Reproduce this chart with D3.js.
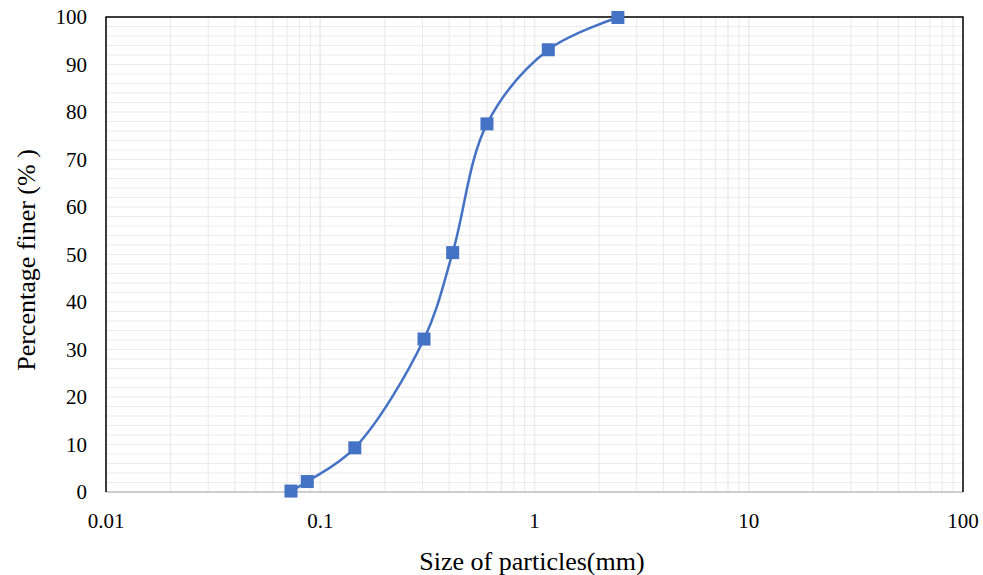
<!DOCTYPE html>
<html>
<head>
<meta charset="utf-8">
<script src="https://cdn.jsdelivr.net/npm/d3@7"></script>
<style>
  body { margin: 0; background: #fff; }
  text { font-family: "Liberation Serif", "Times New Roman", serif; fill: #000; }
</style>
</head>
<body>
<svg id="chart" width="983" height="575"></svg>
<script>
// grain size (mm) vs percentage finer
const sizes = [0.073, 0.087, 0.145, 0.305, 0.415, 0.6, 1.16, 2.45];
const finer = [0.2, 2.2, 9.3, 32.2, 50.4, 77.5, 93.1, 99.9];
const xTicks = [0.01, 0.1, 1, 10, 100];
const yTicks = [0, 10, 20, 30, 40, 50, 60, 70, 80, 90, 100];

const svg = d3.select("#chart");
const m = { left: 106, right: 963, top: 17, bottom: 492 };

const x = d3.scaleLog().domain([0.01, 100]).range([m.left, m.right]);
const y = d3.scaleLinear().domain([0, 100]).range([m.bottom, m.top]);

const grid = svg.append("g");
// vertical gridlines at every log minor tick
const minor = [];
[0.01, 0.1, 1, 10].forEach(d => { for (let k = 1; k <= 10; k++) minor.push(d * k); });
grid.selectAll("line.v").data(minor).enter().append("line")
    .attr("x1", d => x(d)).attr("x2", d => x(d))
    .attr("y1", m.top).attr("y2", m.bottom)
    .style("stroke", "#ebebeb").style("stroke-width", 1.2);
// horizontal gridlines every 2
grid.selectAll("line.h").data(d3.range(0, 101, 2)).enter().append("line")
    .attr("x1", m.left).attr("x2", m.right)
    .attr("y1", d => y(d)).attr("y2", d => y(d))
    .style("stroke", "#ebebeb").style("stroke-width", 1.2);

// frame
svg.append("line").attr("x1", m.left).attr("x2", m.right).attr("y1", m.bottom).attr("y2", m.bottom)
    .style("stroke", "#bfbfbf").style("stroke-width", 1.5);
svg.append("path")
    .attr("d", `M${m.left},${m.bottom}V${m.top}H${m.right}V${m.bottom}`)
    .style("fill", "none").style("stroke", "#000").style("stroke-width", 1.5);

// tick labels
svg.append("g").selectAll("text").data(yTicks).enter().append("text")
    .attr("x", 87).attr("y", d => y(d)).attr("dy", "0.35em")
    .attr("text-anchor", "end").style("font-size", "21px")
    .text(d => d);
svg.append("g").selectAll("text").data(xTicks).enter().append("text")
    .attr("x", d => x(d)).attr("y", 528)
    .attr("text-anchor", "middle").style("font-size", "21px")
    .text(d => d);

// axis titles
svg.append("text").attr("x", 532).attr("y", 570)
    .attr("text-anchor", "middle").style("font-size", "26px")
    .text("Size of particles(mm)");
svg.append("text").attr("transform", "translate(35,260) rotate(-90)")
    .attr("text-anchor", "middle").style("font-size", "26px")
    .text("Percentage finer (% )");

// data
const data = sizes.map((s, i) => ({ s: s, p: finer[i] }));
const line = d3.line().x(d => x(d.s)).y(d => y(d.p)).curve(d3.curveCatmullRom.alpha(0.5));
svg.append("path").datum(data).attr("d", line)
    .style("fill", "none").style("stroke", "#4472C4").style("stroke-width", 2.5);

const sq = 13;
svg.append("g").selectAll("rect").data(data).enter().append("rect")
    .attr("x", d => x(d.s) - sq / 2).attr("y", d => y(d.p) - sq / 2)
    .attr("width", sq).attr("height", sq)
    .style("fill", "#4472C4");
</script>
</body>
</html>
